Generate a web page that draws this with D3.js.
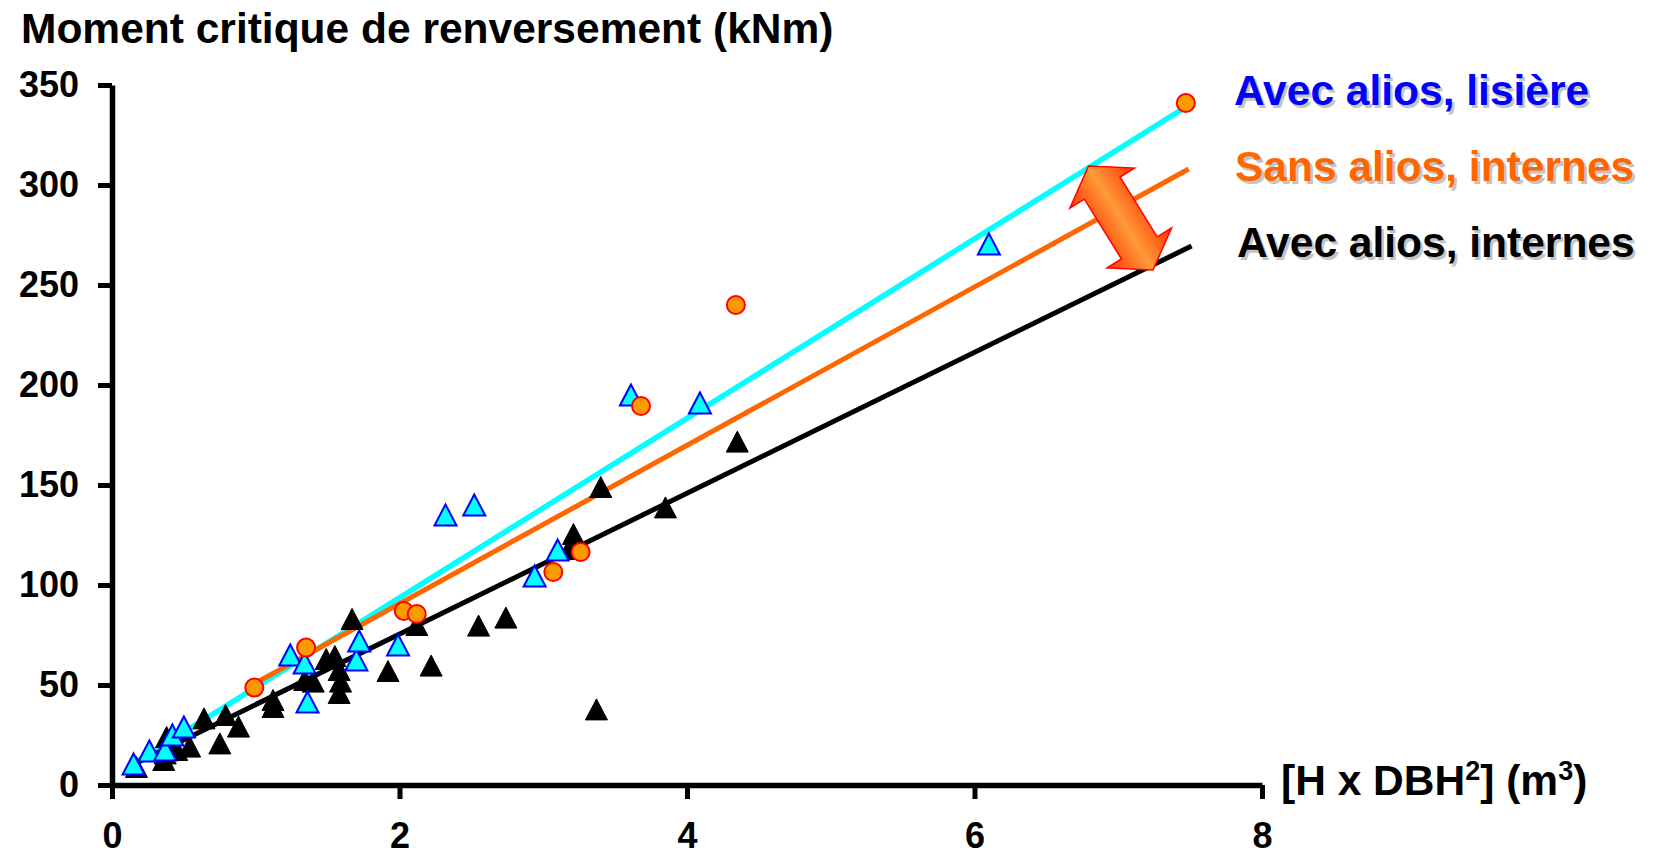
<!DOCTYPE html>
<html>
<head>
<meta charset="utf-8">
<script src="https://cdn.jsdelivr.net/npm/d3@7"></script>
<style>
  html, body { margin: 0; padding: 0; background: #fff; }
  svg { display: block; }
</style>
</head>
<body>
<div id="chart"></div>
<script>
(function () {
  'use strict';

  // Avec alios, lisière (cyan triangles)
  const lisiereX = [0.15, 0.26, 0.37, 0.42, 0.50, 1.24, 1.34, 1.36, 1.70, 1.72, 1.99, 2.32, 2.52, 2.94, 3.10, 3.61, 4.09, 6.10];
  const lisiereY = [10.5, 17, 17.5, 25, 29, 65, 61, 41.5, 62.5, 72, 70, 135, 140, 104.5, 117.5, 195, 191, 270.5];

  // Avec alios, internes (black triangles)
  const internesX = [0.17, 0.36, 0.37, 0.38, 0.45, 0.54, 0.64, 0.75, 0.79, 0.88, 1.12, 1.12, 1.34, 1.40, 1.49, 1.55, 1.58, 1.59, 1.58, 1.67, 1.92, 2.12, 2.22, 2.55, 2.74, 3.18, 3.21, 3.37, 3.40, 3.85, 4.35];
  const internesY = [9, 12.5, 15.8, 24, 17.5, 19.2, 33.3, 20.8, 35, 29.2, 42.5, 39, 52.5, 51.7, 63, 64.5, 57.5, 51.7, 46, 83, 57, 80, 59.7, 79.7, 83.7, 118, 125.5, 37.8, 149, 138.8, 171.7];

  // Sans alios, internes (orange circles)
  const sansX = [0.99, 1.35, 2.03, 2.12, 3.07, 3.26, 3.68, 4.34, 7.47];
  const sansY = [48.7, 68.7, 87, 85.5, 106.5, 116.5, 189.5, 240, 341];

  // regression lines: [x0, y0, x1, y1]
  const fitLisiere = [0.15, 10.7, 7.47, 339];
  const fitSans = [0.97, 49.9, 7.49, 308];
  const fitInternes = [0.17, 11, 7.51, 269.5];

  // double arrow between the fits (data coords)
  const arrowFrom = [6.793, 309.5];
  const arrowTo = [7.242, 257.5];

  const xTicks = [0, 2, 4, 6, 8];
  const yTicks = [0, 50, 100, 150, 200, 250, 300, 350];

  const legendLabels = ['Avec alios, lisière', 'Sans alios, internes', 'Avec alios, internes'];
  const legendColors = ['#0000ff', '#ff6600', '#000000'];

  const FONT = '"Liberation Sans", Arial, Helvetica, sans-serif';
  const width = 1657;
  const height = 856;

  const svg = d3.select('#chart')
    .append('svg')
    .attr('width', width)
    .attr('height', height)
    .style('font-family', FONT);

  svg.append('rect')
    .attr('width', width)
    .attr('height', height)
    .attr('fill', '#ffffff');

  const x = d3.scaleLinear().domain([0, 8]).range([112, 1262]);
  const y = d3.scaleLinear().domain([0, 350]).range([785, 85]);

  // Axes
  svg.append('g')
    .attr('transform', `translate(${x(0)},0)`)
    .call(d3.axisLeft(y).tickValues(yTicks).tickSize(14).tickSizeOuter(0).tickPadding(19))
    .call(g => g.select('.domain').attr('stroke', '#000').attr('stroke-width', 5.5))
    .call(g => g.selectAll('.tick line').attr('stroke', '#000').attr('stroke-width', 5))
    .call(g => g.selectAll('.tick text')
      .attr('fill', '#000')
      .attr('font-size', '36px')
      .attr('font-weight', 'bold')
      .attr('font-family', FONT));

  svg.append('g')
    .attr('transform', `translate(0,${y(0)})`)
    .call(d3.axisBottom(x).tickValues(xTicks).tickSize(14).tickSizeOuter(0).tickPadding(23))
    .call(g => g.select('.domain').attr('stroke', '#000').attr('stroke-width', 5.5))
    .call(g => g.selectAll('.tick line').attr('stroke', '#000').attr('stroke-width', 5))
    .call(g => g.selectAll('.tick text')
      .attr('fill', '#000')
      .attr('font-size', '36px')
      .attr('font-weight', 'bold')
      .attr('font-family', FONT));

  // Axis titles
  svg.append('text')
    .attr('x', 21)
    .attr('y', 43)
    .attr('font-size', '42.5px')
    .attr('font-weight', 'bold')
    .attr('fill', '#000')
    .text('Moment critique de renversement (kNm)');

  const xl = svg.append('text')
    .attr('x', 1281)
    .attr('y', 795)
    .attr('font-size', '42.5px')
    .attr('font-weight', 'bold')
    .attr('fill', '#000');
  xl.append('tspan').text('[H x DBH');
  xl.append('tspan').attr('font-size', '27px').attr('dy', -15).text('2');
  xl.append('tspan').attr('dy', 15).text('] (m');
  xl.append('tspan').attr('font-size', '27px').attr('dy', -15).text('3');
  xl.append('tspan').attr('dy', 15).text(')');

  // Fit lines
  const fits = [
    { f: fitLisiere, color: '#00ffff', w: 5.5 },
    { f: fitSans, color: '#ff6600', w: 5 },
    { f: fitInternes, color: '#000000', w: 5 }
  ];
  svg.selectAll('.fit')
    .data(fits)
    .enter()
    .append('line')
    .attr('class', 'fit')
    .attr('x1', d => x(d.f[0]))
    .attr('y1', d => y(d.f[1]))
    .attr('x2', d => x(d.f[2]))
    .attr('y2', d => y(d.f[3]))
    .attr('stroke', d => d.color)
    .attr('stroke-width', d => d.w);

  // Markers
  const triW = 22, triH = 21;
  const tri = `M0,${-triH / 2}L${triW / 2},${triH / 2}L${-triW / 2},${triH / 2}Z`;

  svg.append('g')
    .selectAll('path')
    .data(internesX.map((v, i) => [v, internesY[i]]))
    .enter()
    .append('path')
    .attr('d', tri)
    .attr('transform', d => `translate(${x(d[0])},${y(d[1])})`)
    .attr('fill', '#000')
    .attr('stroke', '#000')
    .attr('stroke-width', 1);

  svg.append('g')
    .selectAll('path')
    .data(lisiereX.map((v, i) => [v, lisiereY[i]]))
    .enter()
    .append('path')
    .attr('d', tri)
    .attr('transform', d => `translate(${x(d[0])},${y(d[1])})`)
    .attr('fill', '#00ffff')
    .attr('stroke', '#0000ff')
    .attr('stroke-width', 2);

  svg.append('g')
    .selectAll('circle')
    .data(sansX.map((v, i) => [v, sansY[i]]))
    .enter()
    .append('circle')
    .attr('cx', d => x(d[0]))
    .attr('cy', d => y(d[1]))
    .attr('r', 9)
    .attr('fill', '#ff9900')
    .attr('stroke', '#ff0000')
    .attr('stroke-width', 2);

  // Double arrow
  const ax0 = x(arrowFrom[0]), ay0 = y(arrowFrom[1]);
  const ax1 = x(arrowTo[0]), ay1 = y(arrowTo[1]);
  const L = Math.hypot(ax1 - ax0, ay1 - ay0);
  const ang = Math.atan2(ay1 - ay0, ax1 - ax0) * 180 / Math.PI;
  const hl = 26, hw = 38, sw = 21;

  const defs = svg.append('defs');
  const grad = defs.append('linearGradient')
    .attr('id', 'arrowGrad')
    .attr('gradientUnits', 'userSpaceOnUse')
    .attr('x1', 0).attr('y1', -hw).attr('x2', 0).attr('y2', hw);
  grad.append('stop').attr('offset', '0%').attr('stop-color', '#ff3300');
  grad.append('stop').attr('offset', '50%').attr('stop-color', '#ff9a3a');
  grad.append('stop').attr('offset', '100%').attr('stop-color', '#ff3300');

  const arrowPts = [[0, 0], [hl, -hw], [hl, -sw], [L - hl, -sw], [L - hl, -hw], [L, 0],
    [L - hl, hw], [L - hl, sw], [hl, sw], [hl, hw]];
  svg.append('path')
    .attr('transform', `translate(${ax0},${ay0}) rotate(${ang})`)
    .attr('d', 'M' + arrowPts.map(p => p.join(',')).join('L') + 'Z')
    .attr('fill', 'url(#arrowGrad)')
    .attr('stroke', '#ff0000')
    .attr('stroke-width', 1.5)
    .attr('stroke-linejoin', 'miter');

  // Legend (text with soft shadow)
  const legendY = [105, 181, 257];
  const legendX = [1234, 1235, 1237];
  const lg = svg.append('g');
  legendLabels.forEach((t, i) => {
    lg.append('text')
      .attr('x', legendX[i] + 2.5)
      .attr('y', legendY[i] + 2.5)
      .attr('font-size', '42.5px')
      .attr('font-weight', 'bold')
      .attr('fill', '#c4c4c4')
      .text(t);
    lg.append('text')
      .attr('x', legendX[i])
      .attr('y', legendY[i])
      .attr('font-size', '42.5px')
      .attr('font-weight', 'bold')
      .attr('fill', legendColors[i])
      .text(t);
  });
})();
</script>
</body>
</html>
